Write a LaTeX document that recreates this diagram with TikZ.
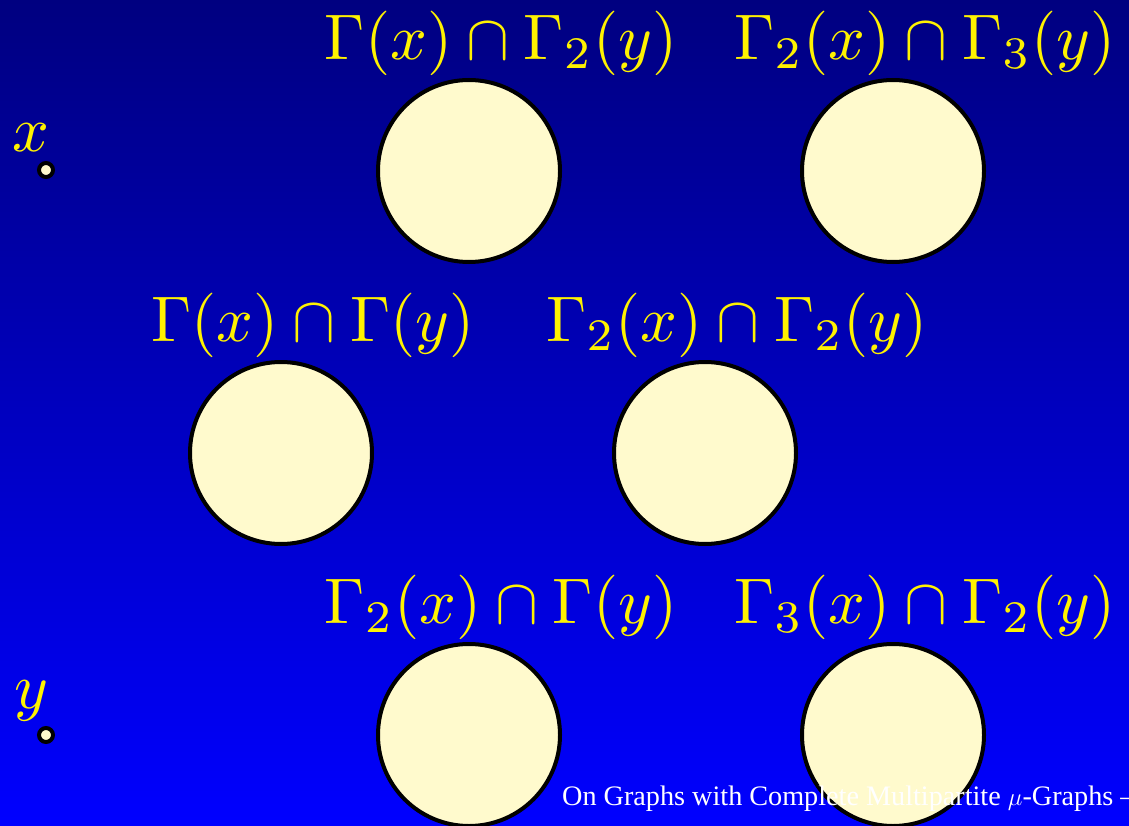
\documentclass[tikz,border=0pt]{standalone}
\usepackage{graphicx}
\usepackage{fontspec}
\newfontfamily\footfont{Liberation Serif}
\usetikzlibrary{calc}
\definecolor{navytop}{RGB}{0,0,128}
\definecolor{bluebot}{RGB}{0,0,255}
\definecolor{lemon}{RGB}{255,250,205}
\newcommand\biglab[1]{\scalebox{6.45}{$#1$}}
\tikzset{
  blob/.style={circle, draw=black, line width=4pt, fill=lemon, minimum size=182pt, inner sep=0pt},
  lab/.style={text=yellow, inner sep=0pt, font=\fontsize{10}{12}\selectfont},
  vdot/.style={circle, draw=black, line width=4pt, fill=lemon, minimum size=14pt, inner sep=0pt},
  foot/.style={text=white, inner sep=0pt, anchor=base west, font=\footfont\fontsize{28.2}{30}\selectfont}
}
\begin{document}
\begin{tikzpicture}[x=1pt,y=-1pt]
\useasboundingbox (0,0) rectangle (1129,826);
\shade[top color=navytop,bottom color=bluebot] (0,0) rectangle (1129,826);
% vertices x and y
\node[vdot] (vx) at (46,170) {};
\node[vdot] (vy) at (46,735) {};
\node[lab] (lx) at (31,138) {\biglab{x}};
\node[lab] (ly) at (31,701) {\biglab{y}};
% cells
\node[blob] (c12) at (469,171) {};
\node[blob] (c23) at (893,171) {};
\node[blob] (c11) at (281,453) {};
\node[blob] (c22) at (705,453) {};
\node[blob] (c21) at (469,735) {};
\node[blob] (c32) at (893,735) {};
% labels
\node[lab] (l12) at ($(c12.center)+(32,-128)$) {\biglab{\Gamma(x)\cap\Gamma_2(y)}};
\node[lab] (l23) at ($(c23.center)+(32,-128)$) {\biglab{\Gamma_2(x)\cap\Gamma_3(y)}};
\node[lab] (l11) at ($(c11.center)+(32,-128)$) {\biglab{\Gamma(x)\cap\Gamma(y)}};
\node[lab] (l22) at ($(c22.center)+(32,-128)$) {\biglab{\Gamma_2(x)\cap\Gamma_2(y)}};
\node[lab] (l21) at ($(c21.center)+(32,-128)$) {\biglab{\Gamma_2(x)\cap\Gamma(y)}};
\node[lab] (l32) at ($(c32.center)+(32,-128)$) {\biglab{\Gamma_3(x)\cap\Gamma_2(y)}};
% footer
\node[foot] (ft) at (562,805) {On Graphs with Complete Multipartite $\mu$-Graphs –};
\end{tikzpicture}
\end{document}
